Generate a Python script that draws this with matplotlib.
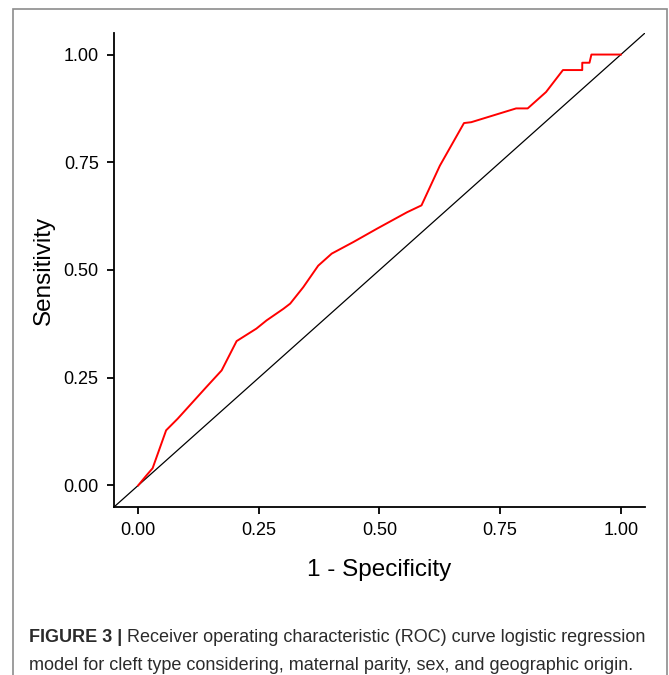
import matplotlib
matplotlib.use('Agg')
import matplotlib.pyplot as plt
from matplotlib.patches import Rectangle

# ROC curve
fpr = [0.0, 0.017, 0.030, 0.058, 0.082, 0.141, 0.173, 0.204, 0.245, 0.266,
       0.301, 0.315, 0.342, 0.373, 0.401, 0.446, 0.495, 0.557, 0.587, 0.625,
       0.675, 0.690, 0.783, 0.807, 0.845, 0.880, 0.920, 0.920, 0.935, 0.939, 1.0]
tpr = [0.0, 0.023, 0.040, 0.128, 0.155, 0.228, 0.267, 0.335, 0.364, 0.383,
       0.410, 0.422, 0.460, 0.510, 0.538, 0.565, 0.596, 0.634, 0.650, 0.742,
       0.841, 0.843, 0.875, 0.875, 0.913, 0.964, 0.964, 0.981, 0.981, 1.0, 1.0]
ticks = [0.0, 0.25, 0.5, 0.75, 1.0]
tick_labels = ['0.00', '0.25', '0.50', '0.75', '1.00']

plt.rcParams['font.family'] = ['Liberation Sans', 'DejaVu Sans']

fig = plt.figure(figsize=(6.69, 6.75), dpi=100)
ax = fig.add_axes([114/669, 1-507/675, (645-114)/669, (507-33)/675])

ax.plot([-0.05, 1.05], [-0.05, 1.05], color='black', lw=0.9)
ax.plot(fpr, tpr, color='#ff0000', lw=1.4)

ax.set_xlim(-0.05, 1.05)
ax.set_ylim(-0.05, 1.05)
ax.set_xticks(ticks)
ax.set_xticklabels(tick_labels)
ax.set_yticks(ticks)
ax.set_yticklabels(tick_labels)
ax.tick_params(labelsize=13, length=5, width=1.3, colors='black', pad=6)
for s in ['top', 'right']:
    ax.spines[s].set_visible(False)
for s in ['left', 'bottom']:
    ax.spines[s].set_linewidth(1.3)

ax.set_xlabel('1 - Specificity', fontsize=17.5, labelpad=14)
ax.set_ylabel('Sensitivity', fontsize=17.5, labelpad=6)

# frame round the whole figure
fig.patches.append(Rectangle((13/669, -0.02), (667-13)/669, 1.02 - 9/675,
                             transform=fig.transFigure, fill=False,
                             edgecolor='#8c8c8c', lw=1.2))

# caption
renderer = fig.canvas.get_renderer()
t1 = fig.text(29/669, 1-642/675, 'FIGURE 3 |', fontsize=13, fontweight='bold',
              color='#2b2b2b')
bb = t1.get_window_extent(renderer)
fig.text((bb.x1 + 5)/669, 1-642/675,
         'Receiver operating characteristic (ROC) curve logistic regression',
         fontsize=13, color='#2b2b2b')
fig.text(29/669, 1-670/675,
         'model for cleft type considering, maternal parity, sex, and geographic origin.',
         fontsize=13, color='#2b2b2b')

fig.savefig('out.png', dpi=100)
